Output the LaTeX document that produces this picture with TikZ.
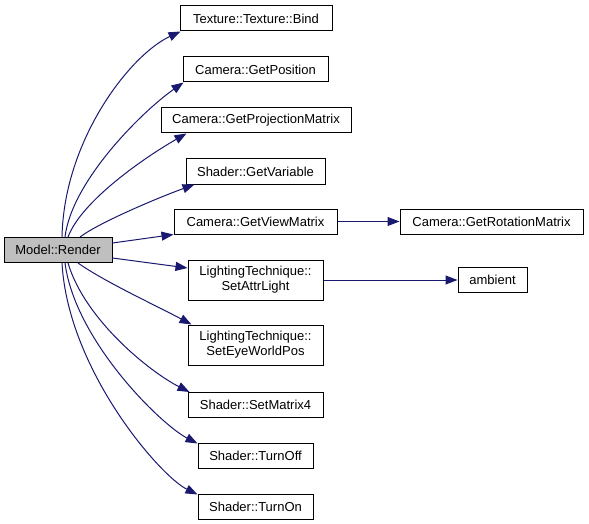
\documentclass[tikz,border=0pt]{standalone}
\usepackage{fontspec}
\setmainfont{Liberation Sans}
\usetikzlibrary{arrows.meta}
\definecolor{edgeblue}{HTML}{191970}
\definecolor{rootgray}{HTML}{BFBFBF}
\begin{document}
\begin{tikzpicture}[x=1pt,y=-1pt,
  fn/.style={draw=black,line width=1pt,inner sep=0pt,minimum height=25pt,
    font=\fontsize{13}{15}\selectfont,align=center},
  fn2/.style={fn,minimum height=40pt},
  call/.style={draw=edgeblue,line width=1pt,-{Triangle[length=12pt,width=9pt]}},
]
\useasboundingbox (0,0) rectangle (589,524);
\node[fn,fill=rootgray,minimum width=108pt] (m) at (58,250) {Model::Render};
\node[fn,minimum width=152pt] (t1) at (256,18.5) {Texture::Texture::Bind};
\node[fn,minimum width=145pt] (t2) at (255.5,69.5) {Camera::GetPosition};
\node[fn,minimum width=190pt] (t3) at (256,120.5) {Camera::GetProjectionMatrix};
\node[fn,minimum width=139pt] (t4) at (255.5,171.5) {Shader::GetVariable};
\node[fn,minimum width=163pt] (t5) at (255.5,221.5) {Camera::GetViewMatrix};
\node[fn2,minimum width=135pt] (t6) at (255.5,280) {LightingTechnique::\\SetAttrLight};
\node[fn2,minimum width=135pt] (t7) at (255.5,345) {LightingTechnique::\\SetEyeWorldPos};
\node[fn,minimum width=135pt] (t8) at (255.5,405) {Shader::SetMatrix4};
\node[fn,minimum width=115pt] (t9) at (255.5,455.5) {Shader::TurnOff};
\node[fn,minimum width=115pt] (t10) at (255.5,506.5) {Shader::TurnOn};
\node[fn,minimum width=183pt] (r) at (491.5,221.5) {Camera::GetRotationMatrix};
\node[fn,minimum width=69pt] (a) at (492.5,280) {ambient};

\draw[call] ([xshift=4pt]m.north) .. controls (64,140) and (130,55) .. ([xshift=1pt]t1.south west);
\draw[call] ([xshift=7pt]m.north) .. controls (72,180) and (144,110) .. ([xshift=1pt]t2.south west);
\draw[call] ([xshift=10pt]m.north) .. controls (82,200) and (147,156) .. ([xshift=26pt]t3.south west);
\draw[call] ([xshift=22pt]m.north) .. controls (100,222) and (160,197) .. ([xshift=9pt]t4.south west);
\draw[call] ([yshift=7pt]m.east) -- (t5.south west);
\draw[call] ([yshift=-8pt]m.east) -- ([yshift=12pt]t6.west);
\draw[call] ([xshift=20pt]m.south) .. controls (105,282) and (157,306) .. ([xshift=4pt]t7.north west);
\draw[call] ([xshift=10pt]m.south) .. controls (85,320) and (150,372) .. ([xshift=2pt]t8.north west);
\draw[call] ([xshift=7pt]m.south) .. controls (75,340) and (160,424) .. ([yshift=-1pt]t9.north west);
\draw[call] ([xshift=4pt]m.south) .. controls (68,370) and (160,476) .. ([yshift=-1pt]t10.north west);
\draw[call] (t5) -- (r);
\draw[call] (t6) -- (a);
\end{tikzpicture}
\end{document}
